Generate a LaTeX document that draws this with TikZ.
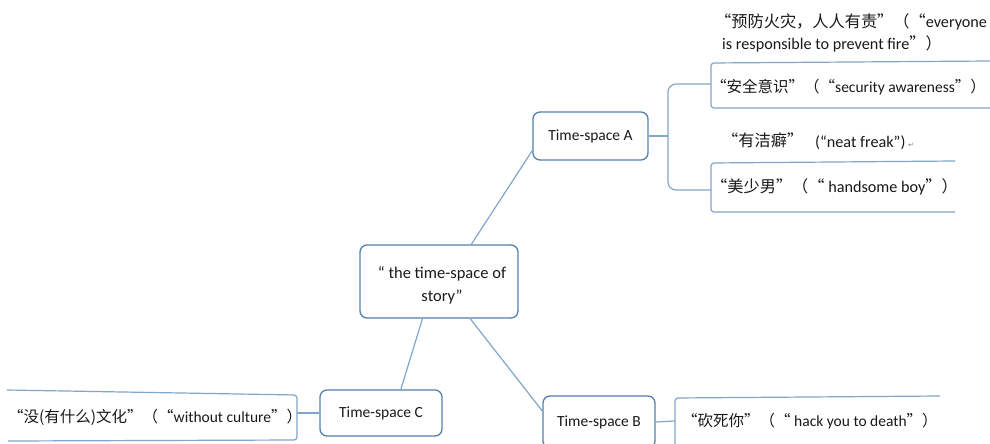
\documentclass[tikz,border=0pt]{standalone}
\usepackage{fontspec}
\setmainfont{Carlito}
\newfontfamily\cjk{Noto Sans CJK SC}
\newfontfamily\symf{DejaVu Sans}
\definecolor{boxc}{RGB}{84,128,172}
\definecolor{linec}{RGB}{128,166,204}
\definecolor{txt}{RGB}{25,25,25}
\begin{document}
\begin{tikzpicture}[x=1pt,y=-1pt,
  topic/.style={draw=boxc, line width=1.3pt, rounded corners=7pt, fill=white, text=txt,
    font=\fontsize{15.5}{23}\selectfont, inner sep=0pt, align=center},
  ctrtext/.style={inner sep=0pt, text=txt, align=center, font=\fontsize{16.5}{23}\selectfont},
  conn/.style={draw=linec, line width=1.2pt},
  lbl/.style={anchor=west, inner sep=0pt, text=txt, font=\fontsize{15.5}{19}\selectfont},
  lblA/.style={lbl, font=\fontsize{16.2}{19}\selectfont},
  subbox/.style={draw=linec, line width=1.2pt, rounded corners=3pt},
  bracket/.style={draw=linec, line width=1.2pt, rounded corners=8pt}]
\useasboundingbox (0,0) rectangle (990,444);
\fill[white] (0,0) rectangle (990,444);

% topic nodes
\node[topic, minimum width=158pt, minimum height=73pt] (ctr) at (439,281.5) {};
\node[ctrtext] (ctrt) at (442,285) {“ the time-space of\\story”};
\node[topic, minimum width=115pt, minimum height=48pt] (tsA) at (590.5,136) {Time-space A};
\node[topic, minimum width=112pt, minimum height=52pt] (tsB) at (599,422) {Time-space B};
\node[topic, minimum width=122pt, minimum height=46pt] (tsC) at (381,413) {Time-space C};

% main connectors
\draw[conn] (ctr.49) -- (tsA.194);
\draw[conn] (ctr.310.3) -- (tsB.169.5);
\draw[conn] (ctr.246.3) -- (tsC.50);

% branch of A
\coordinate (aTop) at (711,84);
\coordinate (aBot) at (711,190);
\coordinate (aJ) at (668,136);
\draw[conn] (tsA.east) -- (aJ);
\draw[bracket] (aTop) -| (aJ) |- (aBot);

% sub boxes of A
\coordinate (s1a) at (990,61);
\coordinate (s1b) at (711,63);
\coordinate (s1c) at (711,108);
\coordinate (s1d) at (990,108);
\draw[subbox] (s1a) -- (s1b) -- (s1c) -- (s1d);
\coordinate (s2a) at (955,161);
\coordinate (s2b) at (711,163);
\coordinate (s2c) at (711,212);
\coordinate (s2d) at (955,212);
\draw[subbox] (s2a) -- (s2b) -- (s2c) -- (s2d);

% branch of B
\coordinate (bJ) at (675,421);
\coordinate (b1a) at (940,396);
\coordinate (b1b) at (675,398);
\coordinate (b1c) at (675,446);
\draw[conn] (tsB.east) -- (bJ);
\draw[subbox] (b1a) -- (b1b) -- (b1c);

% branch of C
\coordinate (cJ) at (297,413);
\coordinate (c1a) at (7,390);
\coordinate (c1b) at (297,395);
\coordinate (c1c) at (297,440);
\coordinate (c1d) at (8,441);
\draw[conn] (tsC.west) -- (cJ);
\draw[subbox] (c1a) -- (c1b) -- (c1c) -- (c1d);

% labels
\node[lblA] (t1) at (715,22) {{\cjk “预防火灾，人人有责”（“}everyone};
\node[lblA] (t1b) at (722,44) {is responsible to prevent fire{\cjk ”）}};
\node[lbl] (t2) at (711,87) {{\cjk “安全意识”（“}security awareness{\cjk ”）}};
\node[lblA] (t3) at (722,140) {{\cjk “有洁癖”}};
\node[lblA] (t3b) at (815,143) {(“neat freak”)\,{\symf\fontsize{7}{8}\selectfont\color{gray}↵}};
\node[lblA] (t4) at (711,187) {{\cjk “美少男”（“} handsome boy{\cjk ”）}};
\node[lbl] (t5) at (682,421) {{\cjk “砍死你”（“} hack you to death{\cjk ”）}};
\node[lbl] (t6) at (8,417) {{\cjk “没(有什么)文化”（“}without culture{\cjk ”）}};
\end{tikzpicture}
\end{document}
